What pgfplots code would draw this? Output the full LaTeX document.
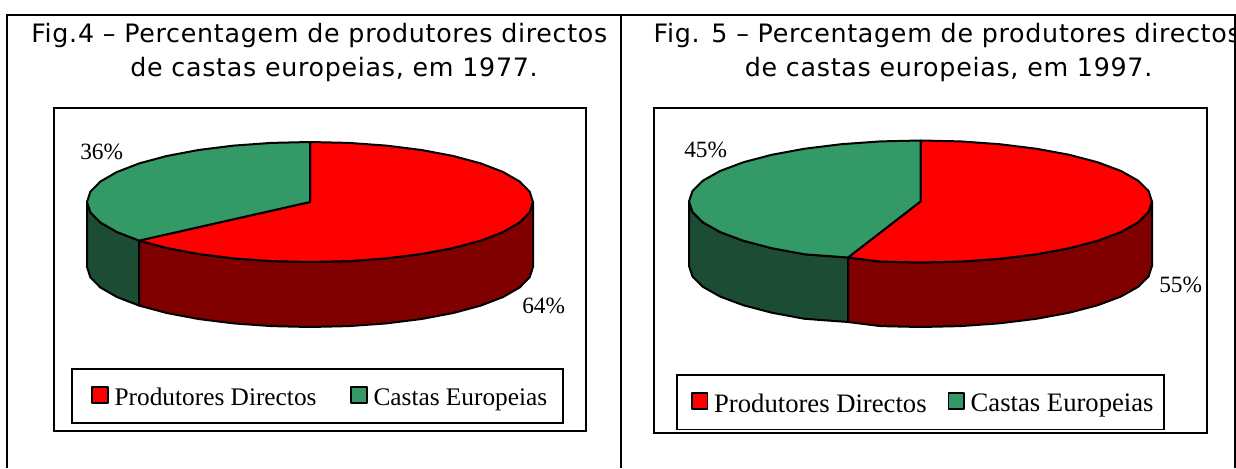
\documentclass[border=0pt]{standalone}
\usepackage{fontspec}
\setmainfont{Liberation Serif}
\newfontfamily\titlefont[LetterSpace=2.8]{DejaVu Sans}
\usepackage{pgfplots}
\pgfplotsset{compat=1.18}

\definecolor{pdred}{HTML}{FF0000}
\definecolor{pdside}{HTML}{800000}
\definecolor{cegreen}{HTML}{339966}
\definecolor{ceside}{HTML}{1C4C33}

% one unit of the axes is one pixel of the reference, y runs downwards
\pgfplotsset{
  piecell/.style={
    scale only axis, hide axis, clip=false, y dir=reverse,
    height=351pt, ymin=0, ymax=468,
    no markers,
    legend image code/.code={
      \path[draw=none,fill=none] (-5.25pt,-3.5pt) -- (0pt,12.25pt);
      \draw[##1,line width=1.2pt] (0pt,-3.7pt) rectangle (11.9pt,8pt);},
  },
  slice/.style={draw=black, line width=1.5pt, line join=round},
  frame/.style={black, line width=1.8pt, line join=miter, forget plot},
  cell/.style={black, line width=2.1pt, forget plot},
}
\newcommand{\titlerow}[3]{\node[anchor=base west,inner sep=0pt,font=\titlefont\fontsize{19}{21}\selectfont] at (axis cs:#1,#2) {#3};}
\newcommand{\pct}[3]{\node[anchor=base west,inner sep=0pt,font=\fontsize{17.5}{20}\selectfont] at (axis cs:#1,#2) {#3};}

\begin{document}
\begin{tikzpicture}
\useasboundingbox (0,0) rectangle (927pt,351pt);

% Fig. 4
\begin{axis}[
  piecell, at={(0,0)}, anchor=south west,
  width=465pt, xmin=0, xmax=620,
  legend columns=2,
  legend style={at={(0.1153,0.2137)}, anchor=north west, draw=black, line width=1.2pt,
    font=\fontsize{19}{22}\selectfont, inner xsep=9.75pt, inner ysep=9.5pt,
    /tikz/column 1/.style={column sep=2.25pt},
    /tikz/column 2/.style={column sep=18.75pt},
    /tikz/column 3/.style={column sep=2.25pt}},
]
\addplot[cell] coordinates {(7,468)(7,15)(621,15)(621,468)};
\addplot[frame] coordinates {(54,108)(586,108)(586,431)(54,431)} --cycle;

% side walls
\addplot[slice, fill=pdside, forget plot] coordinates {
  (533,202)(529.6,212.4)(519.6,222.5)(503.1,232)(480.8,240.6)(453.3,248)(421.5,254)(386.3,258.4)
  (348.7,261.1)(310,262)(271.3,261.1)(233.7,258.4)(198.5,254)(166.7,248)(139.2,240.6)
  (139.2,305.6)(166.7,313)(198.5,319)(233.7,323.4)(271.3,326.1)(310,327)(348.7,326.1)
  (386.3,323.4)(421.5,319)(453.3,313)(480.8,305.6)(503.1,297)(519.6,287.5)(529.6,277.4)(533,267)
} --cycle;
\addplot[slice, fill=ceside, forget plot] coordinates {
  (139.2,240.6)(116.9,232)(100.4,222.5)(90.4,212.4)(87,202)
  (87,267)(90.4,277.4)(100.4,287.5)(116.9,297)(139.2,305.6)
} --cycle;

% top faces
\addplot[slice, fill=pdred] coordinates {
  (310,202)(310,142)(348.7,142.9)(386.3,145.6)(421.5,150)(453.3,156)(480.8,163.4)(503.1,172)
  (519.6,181.5)(529.6,191.6)(533,202)(529.6,212.4)(519.6,222.5)(503.1,232)(480.8,240.6)
  (453.3,248)(421.5,254)(386.3,258.4)(348.7,261.1)(310,262)(271.3,261.1)(233.7,258.4)
  (198.5,254)(166.7,248)(139.2,240.6)
} --cycle;
\addlegendentry{Produtores Directos}
\addplot[slice, fill=cegreen] coordinates {
  (310,202)(139.2,240.6)(116.9,232)(100.4,222.5)(90.4,212.4)(87,202)(90.4,191.6)(100.4,181.5)
  (116.9,172)(139.2,163.4)(166.7,156)(198.5,150)(233.7,145.6)(271.3,142.9)(310,142)
} --cycle;
\addlegendentry{Castas Europeias}

\titlerow{31}{42.7}{Fig.4 – Percentagem de produtores directos}
\titlerow{130}{76.7}{de castas europeias, em 1977.}
\pct{80}{159}{36\%}
\pct{522}{313}{64\%}
\end{axis}

% Fig. 5
\begin{axis}[
  piecell, at={(465pt,0)}, anchor=south west,
  width=462pt, xmin=620, xmax=1236,
  legend columns=2,
  legend style={at={(0.0909,0.2009)}, anchor=north west, draw=black, line width=1.2pt,
    font=\fontsize{20}{23}\selectfont, inner xsep=6pt, inner ysep=9.5pt,
    /tikz/column 1/.style={column sep=2.25pt},
    /tikz/column 2/.style={column sep=9pt},
    /tikz/column 3/.style={column sep=2.25pt}},
]
\addplot[frame] coordinates {(654,108)(1207,108)(1207,433)(654,433)} --cycle;

\addplot[slice, fill=pdside, forget plot] coordinates {
  (1152,201.5)(1148.5,212.1)(1138,222.4)(1121,232)(1097.8,240.7)(1069.3,248.2)(1036.3,254.3)
  (999.7,258.8)(960.7,261.6)(920.5,262.5)(880.3,261.6)(848,257.5)
  (848,322)(880.3,326.1)(920.5,327)(960.7,326.1)(999.7,323.3)(1036.3,318.8)(1069.3,312.7)
  (1097.8,305.2)(1121,296.5)(1138,286.9)(1148.5,276.6)(1152,266)
} --cycle;
\addplot[slice, fill=ceside, forget plot] coordinates {
  (848,257.5)(804.7,254.3)(771.7,248.2)(743.2,240.7)(720,232)(703,222.4)(692.5,212.1)(689,201.5)
  (689,266)(692.5,276.6)(703,286.9)(720,296.5)(743.2,305.2)(771.7,312.7)(804.7,318.8)(848,322)
} --cycle;

\addplot[slice, fill=pdred] coordinates {
  (920.5,201.5)(920.5,140.5)(960.7,141.4)(999.7,144.2)(1036.3,148.7)(1069.3,154.8)(1097.8,162.3)
  (1121,171)(1138,180.6)(1148.5,190.9)(1152,201.5)(1148.5,212.1)(1138,222.4)(1121,232)
  (1097.8,240.7)(1069.3,248.2)(1036.3,254.3)(999.7,258.8)(960.7,261.6)(920.5,262.5)(880.3,261.6)(848,257.5)
} --cycle;
\addlegendentry{Produtores Directos}
\addplot[slice, fill=cegreen] coordinates {
  (920.5,201.5)(848,257.5)(804.7,254.3)(771.7,248.2)(743.2,240.7)(720,232)(703,222.4)(692.5,212.1)
  (689,201.5)(692.5,190.9)(703,180.6)(720,171)(743.2,162.3)(771.7,154.8)(804.7,148.7)(841.3,144.2)
  (880.3,141.4)(920.5,140.5)
} --cycle;
\addlegendentry{Castas Europeias}

\titlerow{653.4}{42.7}{Fig. 5 – Percentagem de produtores directos}
\titlerow{744.6}{76.7}{de castas europeias, em 1997.}
\pct{684}{157}{45\%}
\pct{1159}{292}{55\%}

\addplot[cell] coordinates {(621,15)(1235,15)(1235,468)};
\end{axis}
\end{tikzpicture}
\end{document}
